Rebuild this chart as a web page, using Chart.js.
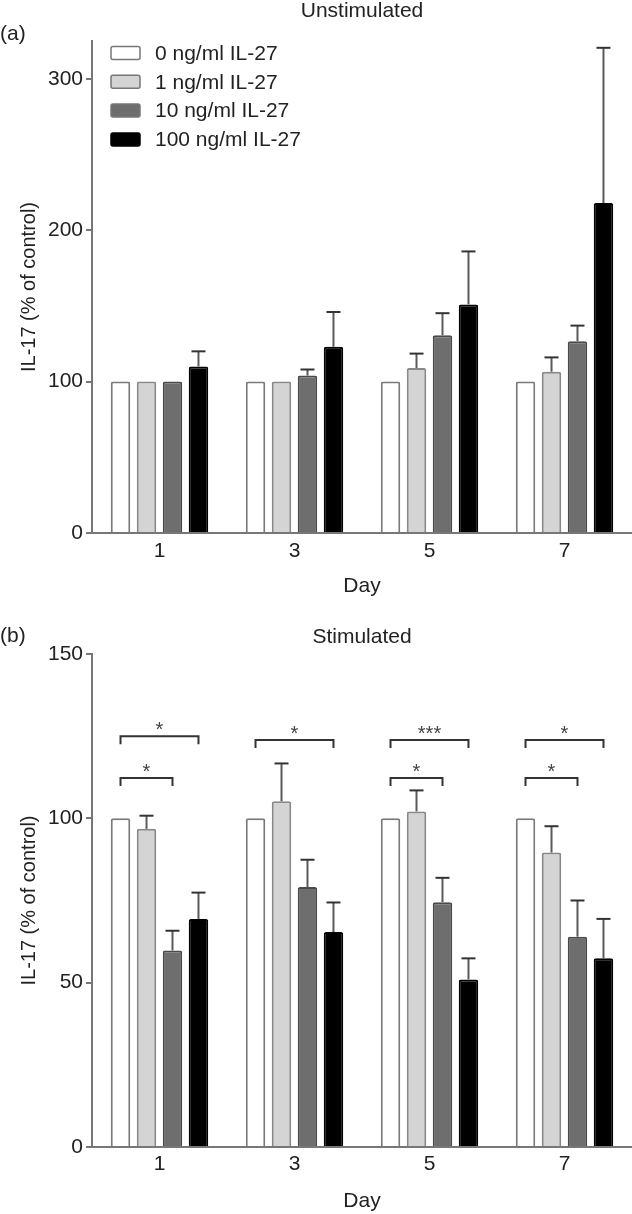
<!DOCTYPE html>
<html>
<head>
<meta charset="utf-8">
<script src="https://cdn.jsdelivr.net/npm/chart.js@4.4.1/dist/chart.umd.min.js"></script>
<style>
  html, body { margin: 0; padding: 0; background: #fff; }
  body { width: 632px; height: 1214px; overflow: hidden; }
  .panel { position: relative; width: 632px; height: 607px; }
</style>
</head>
<body>
<div class="panel"><canvas id="chartA"></canvas></div>
<div class="panel"><canvas id="chartB"></canvas></div>
<script>
/* ─── Data ───────────────────────────────────── */
const days = ['1', '3', '5', '7'];
const doseLabels = ['0 ng/ml IL-27', '1 ng/ml IL-27', '10 ng/ml IL-27', '100 ng/ml IL-27'];

// (a) unstimulated, % of control
const unstim0 = [100, 100, 100, 100];
const unstim1 = [100, 100, 109, 106.5];
const unstim10 = [100, 104, 130.7, 126.7];
const unstim100 = [110, 123, 151, 218];
const unstimSem0 = [0, 0, 0, 0];
const unstimSem1 = [0, 0, 9.5, 9.5];
const unstimSem10 = [0, 4, 14.5, 10.3];
const unstimSem100 = [10, 23, 35, 102.5];

// (b) stimulated, % of control
const stim0 = [100, 100, 100, 100];
const stim1 = [96.8, 105.2, 102.1, 89.6];
const stim10 = [59.8, 79.1, 74.5, 64];
const stim100 = [69.4, 65.4, 51, 57.4];
const stimSem0 = [0, 0, 0, 0];
const stimSem1 = [4, 11.5, 6.4, 8];
const stimSem10 = [6, 8.3, 7.4, 11];
const stimSem100 = [8, 9, 6.4, 12];

// significance brackets on (b)
const sigDay = [0, 0, 1, 2, 2, 3, 3];
const sigFrom = [0, 0, 0, 0, 0, 0, 0];
const sigTo = [3, 2, 3, 3, 2, 3, 2];
const sigLevel = [125, 112.3, 123.8, 123.8, 112.3, 123.8, 112.3];
const sigLabel = ['*', '*', '*', '***', '*', '*', '*'];

/* ─── Style ──────────────────────────────────── */
const doseFill = ['#ffffff', '#d4d4d4', '#6e6e6e', '#000000'];
const doseBorder = ['#7a7a7a', '#888888', '#4a4a4a', '#000000'];
const axisColor = '#777777';
const textColor = '#222222';
const FONT = "'Liberation Sans', Arial, Helvetica, sans-serif";

Chart.defaults.font.family = FONT;
Chart.defaults.font.size = 21;
Chart.defaults.color = textColor;

function makeDatasets(means, sems) {
    return means.map((data, i) => ({
        label: doseLabels[i],
        data: data,
        sem: sems[i],
        backgroundColor: doseFill[i],
        borderColor: doseBorder[i],
        borderWidth: 2,
        borderRadius: { topLeft: 2, topRight: 2 },
        categoryPercentage: 0.77,
        barPercentage: 0.75
    }));
}

/* ─── Plugins ────────────────────────────────── */
const errorBars = {
    id: 'errorBars',
    afterDatasetsDraw(chart) {
        const ctx = chart.ctx;
        const y = chart.scales.y;
        ctx.save();
        ctx.lineWidth = 2;
        chart.data.datasets.forEach((ds, i) => {
            chart.getDatasetMeta(i).data.forEach((bar, j) => {
                const sem = ds.sem[j];
                if (!sem) return;
                const yTop = y.getPixelForValue(ds.data[j] + sem);
                ctx.strokeStyle = '#5a5a5a';
                ctx.beginPath();
                ctx.moveTo(bar.x, bar.y);
                ctx.lineTo(bar.x, yTop);
                ctx.stroke();
                ctx.strokeStyle = '#333';
                ctx.beginPath();
                ctx.moveTo(bar.x - 7, yTop);
                ctx.lineTo(bar.x + 7, yTop);
                ctx.stroke();
            });
        });
        ctx.restore();
    }
};

const brackets = {
    id: 'brackets',
    afterDatasetsDraw(chart, args, opts) {
        if (!opts.show) return;
        const ctx = chart.ctx;
        const y = chart.scales.y;
        ctx.save();
        sigDay.forEach((d, k) => {
            const x1 = chart.getDatasetMeta(sigFrom[k]).data[d].x;
            const x2 = chart.getDatasetMeta(sigTo[k]).data[d].x;
            const yy = y.getPixelForValue(sigLevel[k]);
            ctx.strokeStyle = '#333';
            ctx.lineWidth = 2;
            ctx.beginPath();
            ctx.moveTo(x1, yy + 8);
            ctx.lineTo(x1, yy);
            ctx.lineTo(x2, yy);
            ctx.lineTo(x2, yy + 8);
            ctx.stroke();
            ctx.fillStyle = '#444';
            ctx.font = '20px ' + FONT;
            ctx.textAlign = 'center';
            ctx.textBaseline = 'alphabetic';
            ctx.fillText(sigLabel[k], (x1 + x2) / 2, yy);
        });
        ctx.restore();
    }
};

const panelText = {
    id: 'panelText',
    afterDraw(chart, args, opts) {
        const ctx = chart.ctx;
        const area = chart.chartArea;
        ctx.save();
        ctx.fillStyle = textColor;
        ctx.font = '21px ' + FONT;
        ctx.textBaseline = 'middle';
        ctx.textAlign = 'center';
        ctx.fillText(opts.title, (area.left + area.right) / 2, opts.titleY);
        ctx.textAlign = 'left';
        ctx.fillText(opts.tag, 0, opts.tagY);
        if (opts.legend) {
            chart.data.datasets.forEach((ds, i) => {
                const cy = 53 + i * 28.8;
                ctx.fillStyle = ds.backgroundColor;
                ctx.strokeStyle = ds.borderColor === '#000000' ? '#000' : axisColor;
                ctx.lineWidth = 1.5;
                ctx.beginPath();
                ctx.roundRect(111, cy - 6.5, 29, 13, 2);
                ctx.fill();
                ctx.stroke();
                ctx.fillStyle = textColor;
                ctx.fillText(ds.label, 155, cy + 1);
            });
        }
        ctx.restore();
    }
};

/* ─── Options ────────────────────────────────── */
function makeOptions(cfg) {
    return {
        responsive: true,
        maintainAspectRatio: false,
        animation: false,
        layout: { padding: { top: cfg.top, left: 0, right: 0, bottom: 0 } },
        plugins: {
            legend: { display: false },
            tooltip: { enabled: false },
            panelText: { title: cfg.title, titleY: cfg.titleY, tag: cfg.tag, tagY: cfg.tagY, legend: cfg.legend },
            brackets: { show: cfg.brackets }
        },
        scales: {
            x: {
                grid: { display: false, drawTicks: false },
                border: { display: true, color: axisColor, width: 2 },
                ticks: { padding: cfg.xTickPad, color: textColor },
                title: { display: true, text: 'Day', color: textColor, padding: { top: 0, bottom: cfg.dayPad } },
                afterFit: s => { s.height = cfg.xHeight; }
            },
            y: {
                min: 0,
                max: cfg.max,
                ticks: { stepSize: cfg.step, includeBounds: false, padding: 3, color: textColor },
                grid: { drawOnChartArea: false, drawTicks: true, tickLength: 6, color: axisColor, lineWidth: 2 },
                border: { display: true, color: axisColor, width: 2 },
                title: {
                    display: true, text: 'IL-17 (% of control)', color: textColor,
                    font: { size: 20 }, padding: { top: 17, bottom: 0 }
                },
                afterFit: s => { s.width = 92; }
            }
        }
    };
}

new Chart(document.getElementById('chartA'), {
    type: 'bar',
    data: {
        labels: days,
        datasets: makeDatasets(
            [unstim0, unstim1, unstim10, unstim100],
            [unstimSem0, unstimSem1, unstimSem10, unstimSem100])
    },
    options: makeOptions({
        top: 41, max: 325, step: 100, xHeight: 74, xTickPad: 6, dayPad: 8,
        title: 'Unstimulated', titleY: 11, tag: '(a)', tagY: 34, legend: true, brackets: false
    }),
    plugins: [errorBars, brackets, panelText]
});

new Chart(document.getElementById('chartB'), {
    type: 'bar',
    data: {
        labels: days,
        datasets: makeDatasets(
            [stim0, stim1, stim10, stim100],
            [stimSem0, stimSem1, stimSem10, stimSem100])
    },
    options: makeOptions({
        top: 47, max: 150, step: 50, xHeight: 67, xTickPad: 5, dayPad: 0,
        title: 'Stimulated', titleY: 30, tag: '(b)', tagY: 29, legend: false, brackets: true
    }),
    plugins: [errorBars, brackets, panelText]
});
</script>
</body>
</html>
